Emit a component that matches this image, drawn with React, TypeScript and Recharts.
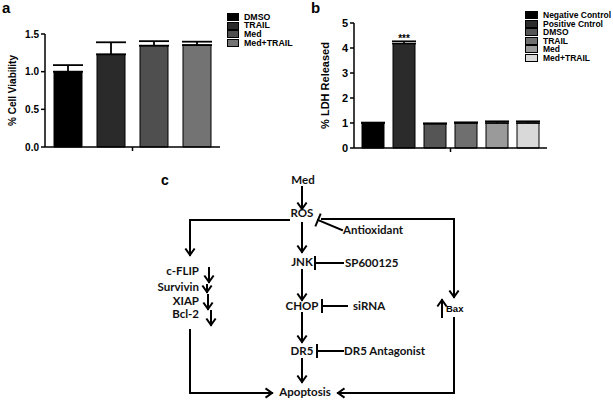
import React from "react";
import { Bar, BarChart, ErrorBar, LabelList, Legend, XAxis, YAxis } from "recharts";

// panel a – cell viability
const groupsA = ["DMSO", "TRAIL", "Med", "Med+TRAIL"];
const viability = [1.0, 1.23, 1.345, 1.353];
const viabilityErr = [0.087, 0.16, 0.06, 0.045];
const colorsA = ["#000000", "#2a2a2a", "#4f4f4f", "#737373"];
const ticksA = [0, 0.5, 1.0, 1.5];

// panel b – LDH release
const groupsB = ["Negative Control", "Positive Cntrol", "DMSO", "TRAIL", "Med", "Med+TRAIL"];
const ldh = [1.0, 4.18, 0.97, 1.0, 1.0, 1.0];
const ldhErr = [0.02, 0.09, 0.02, 0.03, 0.07, 0.07];
const colorsB = ["#000000", "#2b2b2b", "#555555", "#6f6f6f", "#9a9a9a", "#d9d9d9"];
const ticksB = [0, 1, 2, 3, 4, 5];

const FONT = '"Liberation Sans", Arial, sans-serif';
const DIAG_FONT = 'Lato, "Noto Sans", sans-serif';

function makeRow(values: number[], errs: number[]) {
  const row: Record<string, any> = { g: "all" };
  values.forEach((v, i) => {
    row[`v${i}`] = v;
    row[`e${i}`] = [0, errs[i]];
  });
  return [row];
}

const dataA = makeRow(viability, viabilityErr);
const dataB = makeRow(ldh, ldhErr);

const tickStyle = (size: number) => ({ fontSize: size, fontWeight: 700, fill: "#000", fontFamily: FONT });
const axisLine = { stroke: "#000", strokeWidth: 1.5 };

// legend keeps the plotting order (recharts would sort it by name)
function LegendBox({ names, colors, row, fontSize, boxW }: any) {
  return (
    <div style={{ fontFamily: FONT, fontWeight: 700, fontSize, color: "#000" }}>
      {names.map((n: string, i: number) => (
        <div key={n} style={{ display: "flex", alignItems: "center", height: row, lineHeight: `${row}px`, whiteSpace: "nowrap" }}>
          <span style={{ display: "inline-block", width: boxW, height: 6, background: colors[i], border: "1px solid #000", marginRight: 5 }} />
          {n}
        </div>
      ))}
    </div>
  );
}

function AxisTitle({ viewBox, text, cx, size }: any) {
  const y = viewBox.y + viewBox.height / 2;
  return (
    <text x={cx} y={y} transform={`rotate(-90 ${cx} ${y})`} textAnchor="middle" dominantBaseline="central"
      style={{ fontSize: size, fontWeight: 700, fontFamily: FONT, fill: "#000" }}>
      {text}
    </text>
  );
}

function Arrow({ x1, y1, x2, y2 }: { x1: number; y1: number; x2: number; y2: number }) {
  const a = Math.atan2(y2 - y1, x2 - x1);
  const h = 7;
  const s = 0.62;
  const p1 = `${x2 - h * Math.cos(a - s)},${y2 - h * Math.sin(a - s)}`;
  const p2 = `${x2 - h * Math.cos(a + s)},${y2 - h * Math.sin(a + s)}`;
  return (
    <g>
      <line x1={x1} y1={y1} x2={x2} y2={y2} />
      <polyline points={`${p1} ${x2},${y2} ${p2}`} fill="none" />
    </g>
  );
}

function Block({ x1, y1, x2, y2 }: { x1: number; y1: number; x2: number; y2: number }) {
  const a = Math.atan2(y2 - y1, x2 - x1);
  const h = 6;
  const px = -Math.sin(a) * h;
  const py = Math.cos(a) * h;
  return (
    <g>
      <line x1={x1} y1={y1} x2={x2} y2={y2} />
      <line x1={x2 - px} y1={y2 - py} x2={x2 + px} y2={y2 + py} />
    </g>
  );
}

function Diagram() {
  const t = { fontFamily: DIAG_FONT, fontWeight: 700, fontSize: 11.5, fill: "#111" } as const;
  const left = ["c-FLIP", "Survivin", "XIAP", "Bcl-2"];
  const leftY = [275, 291, 305, 318];
  return (
    <svg width={613} height={403} style={{ position: "absolute", left: 0, top: 0, pointerEvents: "none" }}>
      <text x={2} y={13} style={{ fontFamily: FONT, fontWeight: 700, fontSize: 15 }}>a</text>
      <text x={311} y={13} style={{ fontFamily: FONT, fontWeight: 700, fontSize: 15 }}>b</text>
      <text x={161} y={185} style={{ fontFamily: FONT, fontWeight: 700, fontSize: 14 }}>c</text>

      <g stroke="#000" strokeWidth={2} strokeLinecap="square">
        <Arrow x1={302} y1={187} x2={302} y2={209} />
        <polyline points="289,220 190,220" fill="none" />
        <Arrow x1={190} y1={220} x2={190} y2={255} />
        <polyline points="322,219 454,219" fill="none" />
        <Arrow x1={454} y1={219} x2={454} y2={297} />
        <Block x1={342} y1={230} x2={318} y2={220} />
        <Arrow x1={302} y1={223} x2={302} y2={252} />
        <Block x1={343} y1={263} x2={315} y2={263} />
        <Arrow x1={302} y1={270} x2={302} y2={300} />
        <Block x1={347} y1={306} x2={322} y2={306} />
        <Arrow x1={302} y1={313} x2={302} y2={342} />
        <Block x1={343} y1={351} x2={317} y2={351} />
        <Arrow x1={302} y1={359} x2={302} y2={382} />
        <polyline points="190,330 190,393" fill="none" />
        <Arrow x1={190} y1={393} x2={272} y2={393} />
        <polyline points="454,318 454,393" fill="none" />
        <Arrow x1={454} y1={393} x2={338} y2={393} />
        <Arrow x1={442} y1={317} x2={442} y2={300} />
        <Arrow x1={209} y1={268} x2={209} y2={282} />
        <Arrow x1={207} y1={285} x2={207} y2={292} />
        <Arrow x1={208} y1={295} x2={208} y2={309} />
        <Arrow x1={211} y1={311} x2={211} y2={325} />
      </g>

      <text x={303} y={184} textAnchor="middle" style={t}>Med</text>
      <text x={302} y={217} textAnchor="middle" style={t}>ROS</text>
      <text x={343} y={234} style={t}>Antioxidant</text>
      <text x={302} y={266} textAnchor="middle" style={t}>JNK</text>
      <text x={345} y={267} style={t}>SP600125</text>
      <text x={302} y={310} textAnchor="middle" style={t}>CHOP</text>
      <text x={353} y={310} style={t}>siRNA</text>
      <text x={302} y={355} textAnchor="middle" style={t}>DR5</text>
      <text x={344} y={355} style={t}>DR5 Antagonist</text>
      <text x={305} y={396} textAnchor="middle" style={t}>Apoptosis</text>
      {left.map((s, i) => (
        <text key={s} x={199} y={leftY[i]} textAnchor="end" style={t}>{s}</text>
      ))}
      <text x={446} y={312} style={{ fontFamily: FONT, fontWeight: 700, fontSize: 9.5 }}>Bax</text>
    </svg>
  );
}

export default function App() {
  return (
    <div style={{ position: "absolute", left: 0, top: 0, width: 613, height: 403, background: "#fff", fontFamily: FONT }}>
      <div style={{ position: "absolute", left: 0, top: 0 }}>
        <BarChart width={300} height={165} data={dataA} margin={{ top: 34, right: 80, bottom: 8, left: 0 }} barSize={28} barGap={15}>
          <XAxis dataKey="g" tickFormatter={() => ""} height={10} tickSize={4} axisLine={axisLine} tickLine={{ stroke: "#000", strokeWidth: 1.5 }} />
          <YAxis domain={[0, 1.5]} ticks={ticksA} width={45} tickFormatter={(v) => Number(v).toFixed(1)} tick={tickStyle(10)}
            tickSize={4} axisLine={axisLine} tickLine={{ stroke: "#000", strokeWidth: 1.5 }}
            label={{ content: (p: any) => <AxisTitle {...p} text="% Cell Viability" cx={12} size={10} /> }} />
          <Legend layout="vertical" align="center" verticalAlign="middle" wrapperStyle={{ left: 227, top: 12.5 }}
            content={() => <LegendBox names={groupsA} colors={colorsA} row={8.8} fontSize={8.8} boxW={10} />} />
          {groupsA.map((g, i) => (
            <Bar key={g} dataKey={`v${i}`} name={g} fill={colorsA[i]} stroke="#000" strokeWidth={1} isAnimationActive={false}>
              <ErrorBar dataKey={`e${i}`} width={15} stroke="#000" strokeWidth={1.8} direction="y" />
            </Bar>
          ))}
        </BarChart>
      </div>
      <div style={{ position: "absolute", left: 300, top: 0 }}>
        <BarChart width={313} height={165} data={dataB} margin={{ top: 23, right: 66, bottom: 7, left: 0 }} barSize={22} barGap={9}>
          <XAxis dataKey="g" tickFormatter={() => ""} height={10} tickSize={4} axisLine={axisLine} tickLine={{ stroke: "#000", strokeWidth: 1.5 }} />
          <YAxis domain={[0, 5]} ticks={ticksB} width={54} tick={tickStyle(11)}
            tickSize={4} axisLine={axisLine} tickLine={{ stroke: "#000", strokeWidth: 1.5 }}
            label={{ content: (p: any) => <AxisTitle {...p} text="% LDH Released" cx={25} size={11} /> }} />
          <Legend layout="vertical" align="center" verticalAlign="middle" wrapperStyle={{ left: 225, top: 11 }}
            content={() => <LegendBox names={groupsB} colors={colorsB} row={8.5} fontSize={8.5} boxW={11} />} />
          {groupsB.map((g, i) => (
            <Bar key={g} dataKey={`v${i}`} name={g} fill={colorsB[i]} stroke="#000" strokeWidth={1} isAnimationActive={false}>
              <ErrorBar dataKey={`e${i}`} width={12} stroke="#000" strokeWidth={1.6} direction="y" />
              {i === 1 && (
                <LabelList dataKey={`v${i}`} position="top" offset={2} formatter={() => "***"}
                  style={{ fontSize: 10, fontWeight: 700, fill: "#000", fontFamily: FONT }} />
              )}
            </Bar>
          ))}
        </BarChart>
      </div>
      <Diagram />
    </div>
  );
}
